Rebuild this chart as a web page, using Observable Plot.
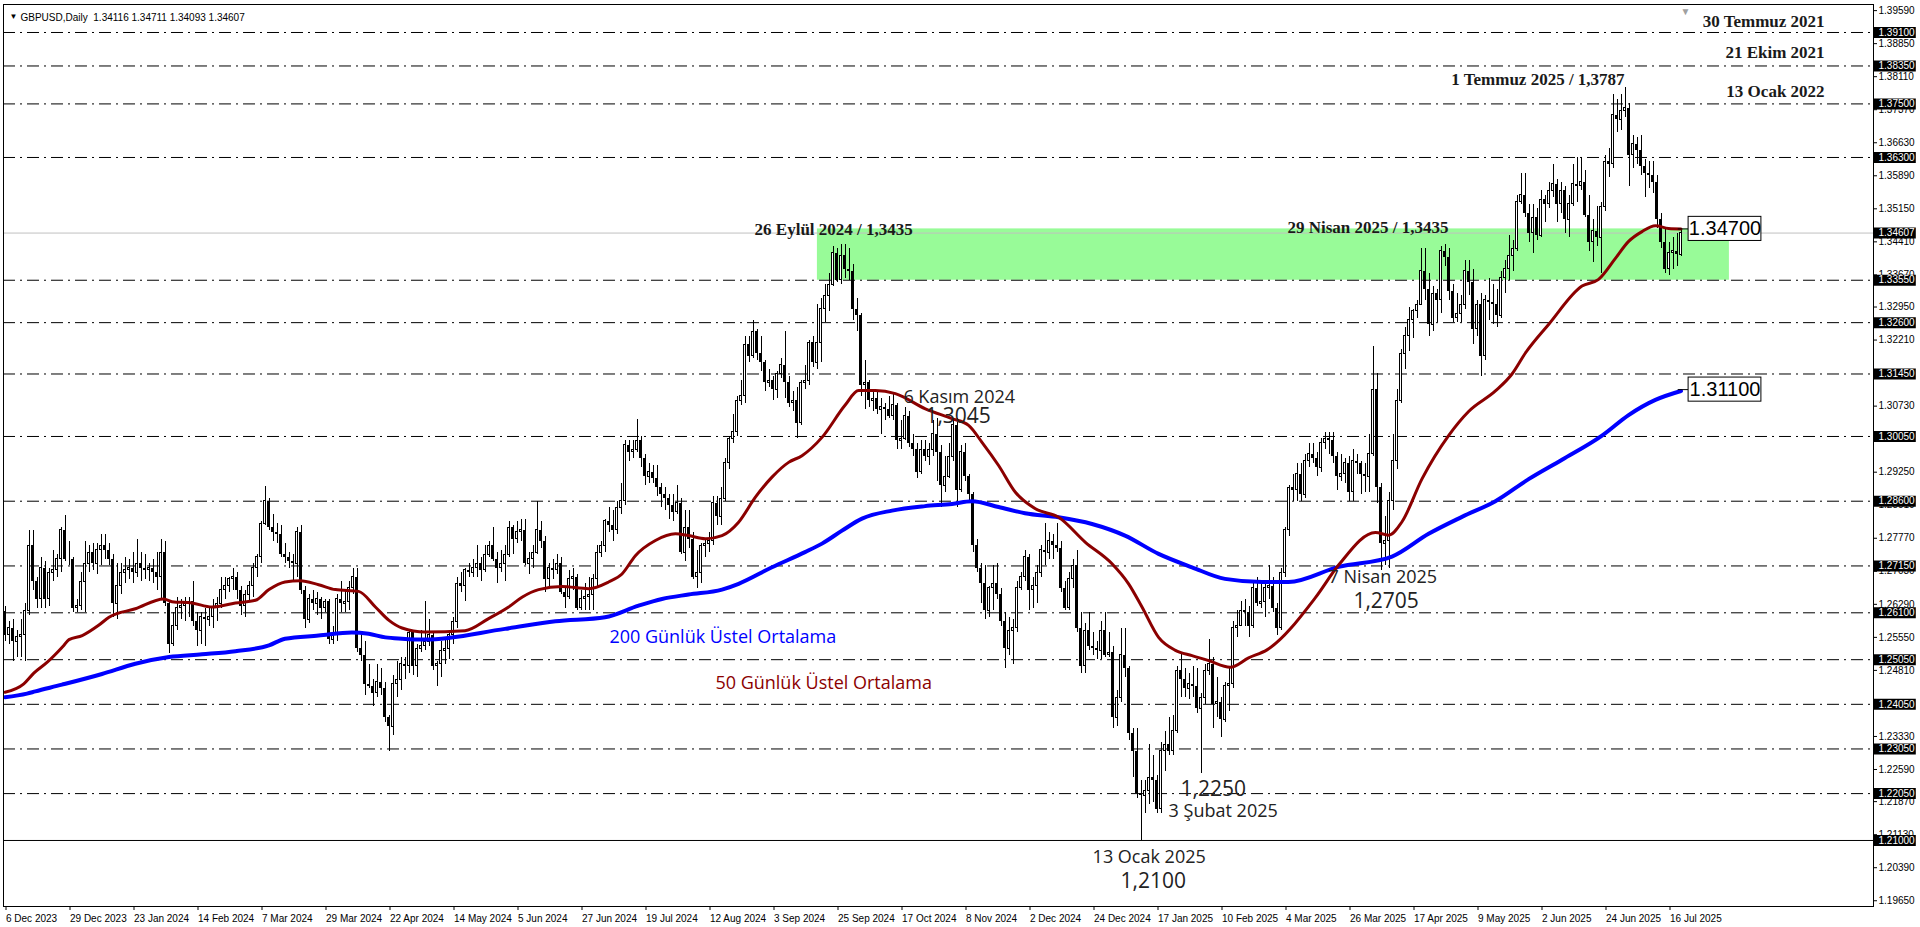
<!DOCTYPE html>
<html><head><meta charset="utf-8">
<script src="https://cdn.jsdelivr.net/npm/d3@7"></script>
<script src="https://cdn.jsdelivr.net/npm/@observablehq/plot@0.6"></script>
<style>
html,body{margin:0;padding:0;background:#fff;overflow:hidden}
svg{display:block}
</style></head><body><div id="chart"></div>
<script>
// ---- daily candles GBPUSD, bar 0 = 6 Dec 2023 ... bar 419 = 21 Jul 2025 ----
const openP = [
1.2612,1.2560,1.2575,1.2545,1.2555,1.2560,1.2615,1.2760,1.2680,1.2640,
1.2710,1.2640,1.2700,1.2705,1.2730,1.2795,1.2730,1.2730,1.2620,1.2625,
1.2680,1.2720,1.2745,1.2720,1.2750,1.2760,1.2750,1.2730,1.2630,1.2670,
1.2700,1.2705,1.2710,1.2700,1.2720,1.2710,1.2705,1.2710,1.2700,1.2690,
1.2745,1.2630,1.2540,1.2580,1.2620,1.2625,1.2630,1.2635,1.2590,1.2570,
1.2600,1.2595,1.2600,1.2620,1.2630,1.2660,1.2670,1.2685,1.2690,1.2660,
1.2625,1.2650,1.2670,1.2710,1.2735,1.2810,1.2860,1.2800,1.2790,1.2785,
1.2740,1.2735,1.2725,1.2720,1.2790,1.2660,1.2595,1.2640,1.2630,1.2640,
1.2620,1.2635,1.2550,1.2560,1.2640,1.2630,1.2635,1.2665,1.2690,1.2530,
1.2515,1.2450,1.2445,1.2430,1.2455,1.2440,1.2375,1.2355,1.2450,1.2460,
1.2495,1.2490,1.2565,1.2490,1.2530,1.2535,1.2545,1.2560,1.2490,1.2495,
1.2525,1.2530,1.2560,1.2590,1.2675,1.2670,1.2705,1.2700,1.2710,1.2720,
1.2705,1.2740,1.2760,1.2730,1.2710,1.2720,1.2740,1.2800,1.2775,1.2790,
1.2795,1.2720,1.2730,1.2745,1.2795,1.2770,1.2685,1.2710,1.2705,1.2720,
1.2655,1.2645,1.2685,1.2690,1.2620,1.2640,1.2645,1.2650,1.2685,1.2745,
1.2760,1.2815,1.2805,1.2795,1.2845,1.2860,1.2985,1.2970,1.2975,1.2995,
1.2955,1.2915,1.2925,1.2910,1.2890,1.2875,1.2865,1.2850,1.2835,1.2855,
1.2745,1.2800,1.2775,1.2690,1.2700,1.2760,1.2765,1.2770,1.2855,1.2825,
1.2865,1.2945,1.3000,1.3015,1.3085,1.3095,1.3210,1.3185,1.3240,1.3190,
1.3170,1.3125,1.3130,1.3110,1.3145,1.3165,1.3125,1.3080,1.3085,1.3035,
1.3125,1.3130,1.3215,1.3170,1.3215,1.3290,1.3320,1.3345,1.3415,1.3355,
1.3410,1.3380,1.3375,1.3290,1.3275,1.3120,1.3125,1.3085,1.3090,1.3065,
1.3070,1.3065,1.3050,1.3075,1.2995,1.3000,1.3050,1.2990,1.2975,1.2925,
1.2975,1.2960,1.2975,1.3010,1.2970,1.2895,1.2915,1.2960,1.3030,1.2885,
1.2970,1.2915,1.2875,1.2760,1.2710,1.2675,1.2615,1.2665,1.2675,1.2650,
1.2590,1.2530,1.2570,1.2575,1.2665,1.2690,1.2735,1.2660,1.2670,1.2700,
1.2750,1.2745,1.2770,1.2760,1.2755,1.2665,1.2620,1.2685,1.2715,1.2575,
1.2490,1.2570,1.2535,1.2530,1.2525,1.2570,1.2515,1.2520,1.2375,1.2420,
1.2515,1.2485,1.2340,1.2300,1.2205,1.2200,1.2210,1.2240,1.2235,1.2170,
1.2300,1.2315,1.2300,1.2345,1.2480,1.2460,1.2440,1.2450,1.2445,1.2395,
1.2420,1.2480,1.2495,1.2405,1.2410,1.2370,1.2445,1.2450,1.2575,1.2580,
1.2615,1.2610,1.2580,1.2665,1.2630,1.2635,1.2665,1.2670,1.2620,1.2575,
1.2700,1.2795,1.2890,1.2885,1.2920,1.2875,1.2950,1.2965,1.2955,1.2935,
1.2990,1.3000,1.2995,1.2960,1.2915,1.2920,1.2945,1.2880,1.2950,1.2945,
1.2920,1.2915,1.2965,1.3110,1.2890,1.2765,1.2770,1.2860,1.2950,1.3085,
1.3190,1.3230,1.3265,1.3285,1.3300,1.3375,1.3335,1.3255,1.3325,1.3310,
1.3420,1.3405,1.3330,1.3270,1.3280,1.3300,1.3375,1.3350,1.3245,1.3300,
1.3185,1.3310,1.3305,1.3300,1.3275,1.3360,1.3380,1.3410,1.3425,1.3530,
1.3545,1.3505,1.3460,1.3495,1.3455,1.3535,1.3525,1.3555,1.3570,1.3525,
1.3555,1.3490,1.3525,1.3570,1.3565,1.3575,1.3500,1.3440,1.3465,1.3450,
1.3520,1.3620,1.3615,1.3725,1.3715,1.3735,1.3740,1.3635,1.3660,1.3645,
1.3610,1.3595,1.3590,1.3575,1.3490,1.3440,1.3380,1.3415,1.3420,1.3412];
const highP = [
1.2625,1.2590,1.2595,1.2570,1.2595,1.2630,1.2795,1.2795,1.2690,1.2735,
1.2725,1.2710,1.2750,1.2740,1.2800,1.2828,1.2770,1.2735,1.2640,1.2700,
1.2770,1.2760,1.2765,1.2765,1.2785,1.2785,1.2765,1.2740,1.2720,1.2720,
1.2735,1.2730,1.2745,1.2775,1.2745,1.2740,1.2720,1.2730,1.2745,1.2775,
1.2770,1.2635,1.2610,1.2645,1.2640,1.2645,1.2645,1.2680,1.2610,1.2610,
1.2620,1.2625,1.2640,1.2645,1.2690,1.2690,1.2690,1.2710,1.2700,1.2670,
1.2660,1.2680,1.2720,1.2740,1.2815,1.2893,1.2865,1.2830,1.2810,1.2805,
1.2765,1.2745,1.2740,1.2800,1.2805,1.2670,1.2650,1.2660,1.2655,1.2645,
1.2640,1.2640,1.2580,1.2650,1.2680,1.2660,1.2680,1.2710,1.2710,1.2565,
1.2545,1.2495,1.2460,1.2495,1.2485,1.2455,1.2380,1.2470,1.2500,1.2510,
1.2510,1.2570,1.2570,1.2540,1.2570,1.2635,1.2595,1.2565,1.2500,1.2545,
1.2550,1.2570,1.2600,1.2690,1.2700,1.2710,1.2720,1.2730,1.2760,1.2735,
1.2760,1.2770,1.2800,1.2745,1.2750,1.2760,1.2815,1.2805,1.2815,1.2820,
1.2820,1.2745,1.2760,1.2860,1.2815,1.2780,1.2720,1.2730,1.2740,1.2735,
1.2670,1.2705,1.2710,1.2695,1.2660,1.2675,1.2690,1.2695,1.2760,1.2770,
1.2820,1.2845,1.2840,1.2860,1.2900,1.2995,1.2995,1.2995,1.3044,1.3005,
1.2965,1.2945,1.2940,1.2940,1.2900,1.2890,1.2875,1.2875,1.2895,1.2865,
1.2840,1.2840,1.2790,1.2750,1.2765,1.2775,1.2790,1.2870,1.2870,1.2890,
1.2955,1.3005,1.3055,1.3095,1.3130,1.3230,1.3230,1.3265,1.3245,1.3230,
1.3175,1.3155,1.3140,1.3150,1.3180,1.3240,1.3140,1.3105,1.3115,1.3130,
1.3165,1.3220,1.3230,1.3300,1.3315,1.3345,1.3370,1.3430,1.3425,1.3435,
1.3435,1.3425,1.3390,1.3315,1.3280,1.3175,1.3130,1.3110,1.3105,1.3090,
1.3080,1.3095,1.3100,1.3080,1.3040,1.3070,1.3060,1.3010,1.2990,1.2995,
1.2995,1.2990,1.3040,1.3045,1.2985,1.2960,1.2990,1.3045,1.3045,1.2985,
1.2990,1.2920,1.2880,1.2775,1.2720,1.2715,1.2670,1.2715,1.2720,1.2665,
1.2610,1.2600,1.2595,1.2680,1.2700,1.2750,1.2740,1.2690,1.2715,1.2760,
1.2810,1.2790,1.2785,1.2810,1.2770,1.2680,1.2700,1.2730,1.2750,1.2610,
1.2585,1.2610,1.2565,1.2545,1.2590,1.2610,1.2565,1.2535,1.2435,1.2575,
1.2575,1.2490,1.2350,1.2350,1.2235,1.2235,1.2315,1.2290,1.2245,1.2320,
1.2345,1.2375,1.2380,1.2490,1.2520,1.2485,1.2475,1.2490,1.2485,1.2430,
1.2495,1.2550,1.2510,1.2465,1.2420,1.2455,1.2485,1.2590,1.2615,1.2635,
1.2640,1.2625,1.2675,1.2690,1.2680,1.2680,1.2715,1.2690,1.2630,1.2710,
1.2800,1.2895,1.2920,1.2945,1.2945,1.2965,1.2990,1.2990,1.2970,1.3000,
1.3015,1.3015,1.3015,1.2970,1.2965,1.2955,1.2960,1.2975,1.2965,1.2950,
1.2945,1.3010,1.3207,1.3145,1.2900,1.2825,1.2880,1.3010,1.3110,1.3200,
1.3250,1.3295,1.3290,1.3310,1.3425,1.3425,1.3370,1.3340,1.3335,1.3430,
1.3435,1.3425,1.3345,1.3325,1.3320,1.3400,1.3400,1.3380,1.3310,1.3325,
1.3320,1.3360,1.3345,1.3335,1.3375,1.3400,1.3455,1.3445,1.3545,1.3595,
1.3595,1.3525,1.3525,1.3515,1.3555,1.3545,1.3575,1.3615,1.3580,1.3575,
1.3565,1.3545,1.3615,1.3630,1.3630,1.3600,1.3545,1.3490,1.3520,1.3530,
1.3635,1.3650,1.3770,1.3760,1.3770,1.3787,1.3750,1.3680,1.3675,1.3680,
1.3625,1.3620,1.3620,1.3590,1.3505,1.3470,1.3440,1.3450,1.3460,1.3471];
const lowP = [
1.2545,1.2540,1.2500,1.2510,1.2510,1.2500,1.2605,1.2660,1.2620,1.2620,
1.2620,1.2625,1.2680,1.2690,1.2700,1.2725,1.2715,1.2610,1.2610,1.2615,
1.2610,1.2700,1.2705,1.2695,1.2715,1.2730,1.2715,1.2600,1.2595,1.2650,
1.2675,1.2685,1.2675,1.2690,1.2680,1.2685,1.2680,1.2675,1.2660,1.2640,
1.2625,1.2518,1.2535,1.2570,1.2595,1.2590,1.2600,1.2580,1.2535,1.2540,
1.2535,1.2580,1.2575,1.2590,1.2620,1.2640,1.2655,1.2660,1.2640,1.2605,
1.2600,1.2635,1.2645,1.2690,1.2720,1.2805,1.2795,1.2770,1.2765,1.2735,
1.2720,1.2710,1.2680,1.2690,1.2650,1.2575,1.2585,1.2615,1.2605,1.2595,
1.2610,1.2540,1.2540,1.2545,1.2610,1.2610,1.2615,1.2650,1.2520,1.2500,
1.2425,1.2440,1.2400,1.2420,1.2425,1.2365,1.2300,1.2335,1.2420,1.2435,
1.2460,1.2475,1.2470,1.2465,1.2520,1.2525,1.2535,1.2480,1.2445,1.2465,
1.2495,1.2505,1.2540,1.2575,1.2655,1.2635,1.2690,1.2690,1.2690,1.2680,
1.2700,1.2735,1.2725,1.2675,1.2700,1.2680,1.2735,1.2740,1.2765,1.2770,
1.2715,1.2695,1.2710,1.2740,1.2755,1.2655,1.2670,1.2685,1.2695,1.2650,
1.2620,1.2640,1.2660,1.2615,1.2615,1.2615,1.2615,1.2615,1.2670,1.2735,
1.2745,1.2790,1.2770,1.2785,1.2830,1.2850,1.2950,1.2955,1.2970,1.2935,
1.2895,1.2900,1.2900,1.2870,1.2845,1.2840,1.2820,1.2815,1.2830,1.2740,
1.2725,1.2755,1.2685,1.2665,1.2675,1.2735,1.2745,1.2760,1.2805,1.2805,
1.2860,1.2930,1.2990,1.3005,1.3075,1.3080,1.3170,1.3180,1.3175,1.3150,
1.3105,1.3115,1.3085,1.3090,1.3135,1.3090,1.3070,1.3060,1.3000,1.3030,
1.3110,1.3120,1.3160,1.3155,1.3170,1.3260,1.3285,1.3340,1.3350,1.3345,
1.3360,1.3355,1.3265,1.3240,1.3095,1.3065,1.3070,1.3060,1.3055,1.3010,
1.3040,1.3045,1.3040,1.2975,1.2975,1.2995,1.2980,1.2960,1.2910,1.2920,
1.2950,1.2940,1.2960,1.2905,1.2845,1.2880,1.2910,1.2950,1.2845,1.2880,
1.2905,1.2860,1.2745,1.2700,1.2630,1.2595,1.2600,1.2615,1.2640,1.2580,
1.2486,1.2515,1.2495,1.2565,1.2660,1.2680,1.2615,1.2620,1.2630,1.2690,
1.2715,1.2730,1.2730,1.2745,1.2655,1.2615,1.2615,1.2665,1.2565,1.2475,
1.2475,1.2525,1.2515,1.2505,1.2505,1.2510,1.2510,1.2350,1.2355,1.2410,
1.2465,1.2325,1.2240,1.2195,1.2100,1.2160,1.2180,1.2185,1.2160,1.2160,
1.2255,1.2290,1.2290,1.2340,1.2420,1.2420,1.2415,1.2420,1.2385,1.2250,
1.2405,1.2470,1.2350,1.2375,1.2330,1.2365,1.2390,1.2440,1.2555,1.2580,
1.2580,1.2555,1.2575,1.2625,1.2620,1.2600,1.2640,1.2610,1.2560,1.2570,
1.2690,1.2780,1.2860,1.2860,1.2860,1.2865,1.2935,1.2945,1.2915,1.2925,
1.2975,1.2965,1.2945,1.2885,1.2905,1.2900,1.2860,1.2860,1.2920,1.2875,
1.2880,1.2880,1.2960,1.2855,1.2705,1.2715,1.2710,1.2840,1.2930,1.3080,
1.3155,1.3195,1.3225,1.3270,1.3300,1.3310,1.3230,1.3240,1.3260,1.3280,
1.3385,1.3310,1.3260,1.3260,1.3260,1.3290,1.3320,1.3210,1.3230,1.3140,
1.3175,1.3265,1.3255,1.3250,1.3270,1.3325,1.3355,1.3375,1.3420,1.3525,
1.3495,1.3440,1.3415,1.3445,1.3450,1.3485,1.3515,1.3540,1.3485,1.3505,
1.3460,1.3450,1.3520,1.3530,1.3555,1.3495,1.3420,1.3395,1.3430,1.3370,
1.3510,1.3585,1.3605,1.3685,1.3690,1.3720,1.3565,1.3605,1.3615,1.3590,
1.3540,1.3560,1.3550,1.3470,1.3425,1.3370,1.3365,1.3380,1.3385,1.3409];
const closeP = [
1.2560,1.2575,1.2545,1.2555,1.2560,1.2615,1.2760,1.2680,1.2640,1.2710,
1.2640,1.2700,1.2705,1.2730,1.2795,1.2730,1.2730,1.2620,1.2625,1.2680,
1.2720,1.2745,1.2720,1.2750,1.2760,1.2750,1.2730,1.2630,1.2670,1.2700,
1.2705,1.2710,1.2700,1.2720,1.2710,1.2705,1.2710,1.2700,1.2690,1.2745,
1.2630,1.2540,1.2580,1.2620,1.2625,1.2630,1.2635,1.2590,1.2570,1.2600,
1.2595,1.2600,1.2620,1.2630,1.2660,1.2670,1.2685,1.2690,1.2660,1.2625,
1.2650,1.2670,1.2710,1.2735,1.2810,1.2860,1.2800,1.2790,1.2785,1.2740,
1.2735,1.2725,1.2720,1.2790,1.2660,1.2595,1.2640,1.2630,1.2640,1.2620,
1.2635,1.2550,1.2560,1.2640,1.2630,1.2635,1.2665,1.2690,1.2530,1.2515,
1.2450,1.2445,1.2430,1.2455,1.2440,1.2375,1.2355,1.2450,1.2460,1.2495,
1.2490,1.2565,1.2490,1.2530,1.2535,1.2545,1.2560,1.2490,1.2495,1.2525,
1.2530,1.2560,1.2590,1.2675,1.2670,1.2705,1.2700,1.2710,1.2720,1.2705,
1.2740,1.2760,1.2730,1.2710,1.2720,1.2740,1.2800,1.2775,1.2790,1.2795,
1.2720,1.2730,1.2745,1.2795,1.2770,1.2685,1.2710,1.2705,1.2720,1.2655,
1.2645,1.2685,1.2690,1.2620,1.2640,1.2645,1.2650,1.2685,1.2745,1.2760,
1.2815,1.2805,1.2795,1.2845,1.2860,1.2985,1.2970,1.2975,1.2995,1.2955,
1.2915,1.2925,1.2910,1.2890,1.2875,1.2865,1.2850,1.2835,1.2855,1.2745,
1.2800,1.2775,1.2690,1.2700,1.2760,1.2765,1.2770,1.2855,1.2825,1.2865,
1.2945,1.3000,1.3015,1.3085,1.3095,1.3210,1.3185,1.3240,1.3190,1.3170,
1.3125,1.3130,1.3110,1.3145,1.3165,1.3125,1.3080,1.3085,1.3035,1.3125,
1.3130,1.3215,1.3170,1.3215,1.3290,1.3320,1.3345,1.3415,1.3355,1.3410,
1.3380,1.3375,1.3290,1.3275,1.3120,1.3125,1.3085,1.3090,1.3065,1.3070,
1.3065,1.3050,1.3075,1.2995,1.3000,1.3050,1.2990,1.2975,1.2925,1.2975,
1.2960,1.2975,1.3010,1.2970,1.2895,1.2915,1.2960,1.3030,1.2885,1.2970,
1.2915,1.2875,1.2760,1.2710,1.2675,1.2615,1.2665,1.2675,1.2650,1.2590,
1.2530,1.2570,1.2575,1.2665,1.2690,1.2735,1.2660,1.2670,1.2700,1.2750,
1.2745,1.2770,1.2760,1.2755,1.2665,1.2620,1.2685,1.2715,1.2575,1.2490,
1.2570,1.2535,1.2530,1.2525,1.2570,1.2515,1.2520,1.2375,1.2420,1.2515,
1.2485,1.2340,1.2300,1.2205,1.2200,1.2210,1.2240,1.2235,1.2170,1.2300,
1.2315,1.2300,1.2345,1.2480,1.2460,1.2440,1.2450,1.2445,1.2395,1.2420,
1.2480,1.2495,1.2405,1.2410,1.2370,1.2445,1.2450,1.2575,1.2580,1.2615,
1.2610,1.2580,1.2665,1.2630,1.2635,1.2665,1.2670,1.2620,1.2575,1.2700,
1.2795,1.2890,1.2885,1.2920,1.2875,1.2950,1.2965,1.2955,1.2935,1.2990,
1.3000,1.2995,1.2960,1.2915,1.2920,1.2945,1.2880,1.2950,1.2945,1.2920,
1.2915,1.2965,1.3110,1.2890,1.2765,1.2770,1.2860,1.2950,1.3085,1.3190,
1.3230,1.3265,1.3285,1.3300,1.3375,1.3335,1.3255,1.3325,1.3310,1.3420,
1.3405,1.3330,1.3270,1.3280,1.3300,1.3375,1.3350,1.3245,1.3300,1.3185,
1.3310,1.3305,1.3300,1.3275,1.3360,1.3380,1.3410,1.3425,1.3530,1.3545,
1.3505,1.3460,1.3495,1.3455,1.3535,1.3525,1.3555,1.3570,1.3525,1.3555,
1.3490,1.3525,1.3570,1.3565,1.3575,1.3500,1.3440,1.3465,1.3450,1.3520,
1.3620,1.3615,1.3725,1.3715,1.3735,1.3740,1.3635,1.3660,1.3645,1.3610,
1.3595,1.3590,1.3575,1.3490,1.3440,1.3380,1.3415,1.3420,1.3412,1.3461];

// 50- and 200-day EMA readings: [bar index, price]
const ema50 = [[0,1.2432],[4.7,1.2451],[7.2,1.2475],[10.5,1.2499],[14.7,1.2537],[16,1.2550],[19.3,1.2559],[23.4,1.2582],[26,1.2600],[32.6,1.2619],[39.7,1.2641],[41.75,1.2635],[46.75,1.2632],[51.75,1.2623],[57.6,1.2632],[62.6,1.2638],[66,1.2662],[70,1.2679],[73.8,1.2682],[78.4,1.2673],[82.6,1.2662],[88.4,1.2658],[92.6,1.2623],[96,1.2593],[99.25,1.2576],[105,1.2567],[115,1.2570],[120.9,1.2597],[125.9,1.2623],[129.25,1.2645],[133.4,1.2662],[139.25,1.2669],[145.9,1.2664],[150.9,1.2679],[154.25,1.2697],[157.6,1.2738],[162.6,1.2772],[167.6,1.2787],[170.9,1.2783],[175.1,1.2776],[179.25,1.2783],[183.4,1.2813],[187.6,1.2869],[191.75,1.2914],[195.9,1.2947],[199.25,1.2962],[204.25,1.3003],[210,1.3075],[213.4,1.3108],[217.6,1.3108],[222.6,1.3101],[230.1,1.3067],[236.75,1.3045],[240.9,1.3030],[244.25,1.2992],[248.4,1.2940],[252.6,1.2880],[257.6,1.2843],[263.4,1.2824],[270.1,1.2768],[276.75,1.2720],[280.9,1.2675],[284.25,1.2623],[288.4,1.2555],[292.6,1.2526],[296.75,1.2514],[300.9,1.2503],[306.3,1.2488],[310.9,1.2509],[315.5,1.2527],[327.6,1.2644],[333.4,1.2717],[342.6,1.2790],[345.9,1.2784],[349.25,1.2814],[354.25,1.2910],[360.9,1.3007],[365.9,1.3061],[372.6,1.3107],[376.75,1.3145],[380.1,1.3192],[386,1.3257],[394.25,1.3342],[398.4,1.3357],[402.6,1.3404],[405.9,1.3442],[409.25,1.3464],[412.6,1.3477],[415.9,1.3471],[419,1.3470]];
const ema200 = [[0,1.2421],[5.5,1.2429],[7.6,1.2434],[14.25,1.2449],[24.25,1.2473],[32.6,1.2496],[41,1.2511],[49.25,1.2517],[57.6,1.2524],[66,1.2537],[70,1.2552],[78.4,1.2559],[86.75,1.2566],[90.9,1.2563],[95.1,1.2555],[99.25,1.2552],[105,1.2550],[125,1.2574],[137.6,1.2591],[150,1.2600],[158.4,1.2626],[164.25,1.2641],[170.9,1.2651],[179.25,1.2662],[183.4,1.2675],[191.75,1.2712],[200,1.2746],[204.25,1.2765],[209.25,1.2794],[214.25,1.2821],[221.75,1.2839],[230,1.2849],[236.75,1.2854],[241.75,1.2860],[248.4,1.2847],[255,1.2833],[263.4,1.2824],[271.75,1.2809],[280,1.2783],[288.4,1.2742],[296.75,1.2712],[305,1.2686],[314.25,1.2679],[320.9,1.2679],[333.4,1.2713],[346.75,1.2736],[355.9,1.2787],[364.25,1.2825],[372.6,1.2860],[381,1.2910],[389.25,1.2953],[399.25,1.3007],[405.9,1.3053],[412.6,1.3087],[419,1.3107]];

// horizontal levels
const dashLevels = [1.3910,1.3835,1.3750,1.3630,1.3355,1.3260,1.3145,1.3005,1.2860,1.2715,1.2610,1.2505,1.2405,1.2305,1.2205];
const solidLevel = 1.2100;
const bidPrice = 1.34607;
const zoneLow = 1.3355, zoneHigh = 1.3470;

// axis tick labels
const priceTicks = [1.39590,1.38850,1.38110,1.37370,1.36630,1.35890,1.35150,1.34410,1.33670,1.32950,1.32210,1.30730,1.29990,1.29250,1.28510,1.27770,1.27030,1.26290,1.25550,1.24810,1.23330,1.22590,1.21870,1.21130,1.20390,1.19650];
const boxedTicks = [1.39100,1.38350,1.37500,1.36300,1.33550,1.32600,1.31450,1.30050,1.28600,1.27150,1.26100,1.25050,1.24050,1.23050,1.22050,1.21000,1.34607];
const dateLabels = ["6 Dec 2023","29 Dec 2023","23 Jan 2024","14 Feb 2024","7 Mar 2024","29 Mar 2024","22 Apr 2024","14 May 2024","5 Jun 2024","27 Jun 2024","19 Jul 2024","12 Aug 2024","3 Sep 2024","25 Sep 2024","17 Oct 2024","8 Nov 2024","2 Dec 2024","24 Dec 2024","17 Jan 2025","10 Feb 2025","4 Mar 2025","26 Mar 2025","17 Apr 2025","9 May 2025","2 Jun 2025","24 Jun 2025","16 Jul 2025"];
const header = "GBPUSD,Daily\u00a0 1.34116 1.34711 1.34093 1.34607";
const emaLabels = ["1.34700", "1.31100"];
const emaLabelValues = [1.34700, 1.31100];

// ---- build ----
const candles = openP.map((o, i) => ({i, o, h: highP[i], l: lowP[i], c: closeP[i]}));
const up = candles.filter(d => d.c >= d.o);
const down = candles.filter(d => d.c < d.o);
const xDomain = [-0.375, 467.125];
const XR = xDomain[1];
const dateTicks = dateLabels.map((_, k) => k * 16);

const serif = "'Liberation Serif', 'Times New Roman', serif";
const sans = "'Open Sans', 'Noto Sans', sans-serif";

const serifNotes = [
  {t: "30 Temmuz 2021", x: 454.9, y: 1.39346, a: "end"},
  {t: "21 Ekim 2021", x: 454.9, y: 1.38647, a: "end"},
  {t: "13 Ocak 2022", x: 454.9, y: 1.37774, a: "end"},
  {t: "1 Temmuz 2025 / 1,3787", x: 404.9, y: 1.38047, a: "end"},
  {t: "26 Eylül 2024 / 1,3435", x: 187.4, y: 1.34687, a: "start"},
  {t: "29 Nisan 2025 / 1,3435", x: 320.6, y: 1.34731, a: "start"}
];
const sansNotes = [
  {t: "6 Kasım 2024", x: 224.6, y: 1.30930, s: 18, f: "#222"},
  {t: "1,3045", x: 230.1, y: 1.30504, s: 21, f: "#222"},
  {t: "200 Günlük Üstel Ortalama", x: 151.1, y: 1.25547, s: 18, f: "#0000ff"},
  {t: "50 Günlük Üstel Ortalama", x: 177.6, y: 1.24516, s: 18, f: "#8b0000"},
  {t: "7 Nisan 2025", x: 330.9, y: 1.26902, s: 18, f: "#222"},
  {t: "1,2705", x: 337.1, y: 1.26353, s: 21, f: "#222"},
  {t: "1,2250", x: 293.9, y: 1.22142, s: 21, f: "#222"},
  {t: "3 Şubat 2025", x: 290.9, y: 1.21649, s: 18, f: "#222"},
  {t: "13 Ocak 2025", x: 271.9, y: 1.20619, s: 18, f: "#222"},
  {t: "1,2100", x: 278.9, y: 1.20081, s: 21, f: "#222"}
];
const boxH = 0.0027;

const chart = Plot.plot({
  width: 1920, height: 927,
  marginLeft: 3, marginRight: 47, marginTop: 4, marginBottom: 21,
  x: {domain: xDomain, axis: null},
  y: {domain: [1.19521, 1.39727], axis: null},
  style: {fontFamily: "'Liberation Sans', Arial, sans-serif", background: "#fff", overflow: "visible"},
  marks: [
    Plot.rect([{}], {x1: 203.1, x2: 431.1, y1: zoneLow, y2: zoneHigh, fill: "#98fb98"}),
    Plot.ruleY([bidPrice], {stroke: "#c0c0c0"}),
    Plot.ruleY(dashLevels, {stroke: "#000", strokeDasharray: "12,5,2,5"}),
    Plot.ruleY([solidLevel], {stroke: "#000"}),
    Plot.ruleX(candles, {x: "i", y1: "l", y2: "h", stroke: "#000", shapeRendering: "crispEdges"}),
    Plot.rect(up, {x1: d => d.i - 0.25, x2: d => d.i + 0.25, y1: "o", y2: "c", fill: "#fff", stroke: "#000", shapeRendering: "crispEdges"}),
    Plot.rect(down, {x1: d => d.i - 0.375, x2: d => d.i + 0.375, y1: "o", y2: "c", fill: "#000", shapeRendering: "crispEdges"}),
    Plot.line(ema200, {x: d => d[0], y: d => d[1], stroke: "#0000ff", strokeWidth: 4, curve: "monotone-x"}),
    Plot.line(ema50, {x: d => d[0], y: d => d[1], stroke: "#8b0000", strokeWidth: 3, curve: "monotone-x"}),
    Plot.frame({stroke: "#000"}),
    Plot.axisY({ticks: priceTicks, anchor: "right", tickSize: 3, tickPadding: 2, tickFormat: d => d.toFixed(5), fontSize: 10, label: null}),
    Plot.axisX({ticks: dateTicks, anchor: "bottom", tickSize: 4, tickPadding: 4, tickFormat: d => dateLabels[Math.round(d / 16)], textAnchor: "start", dx: 1, fontSize: 10, label: null}),
    Plot.ruleY(boxedTicks, {x1: XR + 0.1, x2: XR + 10.7, stroke: "#000", strokeWidth: 11}),
    Plot.text(boxedTicks, {x: XR, y: d => d, text: d => d.toFixed(5), fill: "#fff", textAnchor: "start", dx: 5, fontSize: 10}),
    // serif annotations
    Plot.text(serifNotes.filter(d => d.a === "end"), {x: "x", y: "y", text: "t", textAnchor: "end", fontFamily: serif, fontSize: 17, fontWeight: "bold", fill: "#1a1a1a"}),
    Plot.text(serifNotes.filter(d => d.a === "start"), {x: "x", y: "y", text: "t", textAnchor: "start", fontFamily: serif, fontSize: 17, fontWeight: "bold", fill: "#1a1a1a"}),
    Plot.text(sansNotes, {x: "x", y: "y", text: "t", textAnchor: "start", fontFamily: sans, fontSize: d => d.s, fill: d => d.f}),
    // EMA value tags
    Plot.ruleY(emaLabelValues, {x1: 418.3, x2: 420.9, stroke: "#000"}),
    Plot.rect(emaLabelValues, {x1: 420.9, x2: 439.1, y1: d => d - boxH, y2: d => d + boxH, fill: "#fff", stroke: "#000"}),
    Plot.text(emaLabelValues, {x: 430, y: d => d, text: (d, k) => emaLabels[k], fontSize: 20, fill: "#000"}),
    // header
    Plot.text([header], {frameAnchor: "top-left", dx: 17, dy: 9, textAnchor: "start", fontSize: 10, fill: "#000"}),
    Plot.text(["\u25BC"], {frameAnchor: "top-left", dx: 6, dy: 9, textAnchor: "start", fontSize: 8, fill: "#000"}),
    Plot.text(["\u25BC"], {x: 420.1, frameAnchor: "top", dy: 3, fontSize: 10, fill: "#a0a0a0"})
  ]
});
document.getElementById("chart").appendChild(chart);
</script>
</body></html>
